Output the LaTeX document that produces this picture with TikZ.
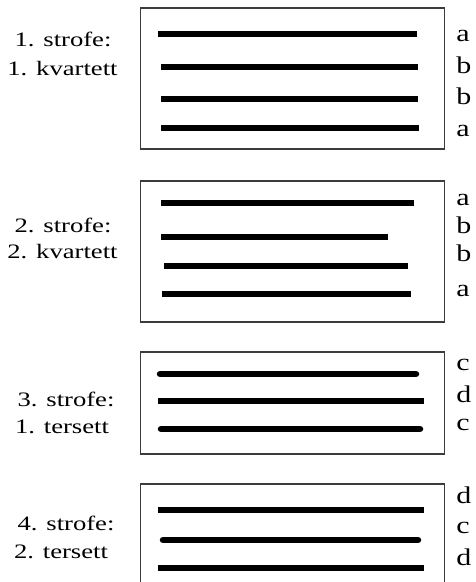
\documentclass[tikz,border=0pt]{standalone}
\usepackage{fontspec}
\setmainfont{Liberation Serif}
\usetikzlibrary{positioning}
\tikzstyle{poem} = [x = 1pt, y = -1pt, every node/.style={transform shape, inner sep = 0pt}]
\definecolor{frameColor}{RGB}{60,60,60}
\tikzstyle{strofeStyle} = [color=frameColor, line width = 1.2pt]
\tikzstyle{verseStyle} = [color=black, line width = 6.5pt]
\tikzstyle{labelText} = [font=\fontsize{20.5}{24}\selectfont, xscale = 1.3, anchor = base]
\tikzstyle{rhymeText} = [font=\fontsize{24}{28}\selectfont, xscale = 1.25, anchor = base west]
\newcommand{\strofeBox}[2]{\draw [strofeStyle] (140.5, #1) rectangle (444.5, #2);}
\newcommand{\verseLine}[3]{\draw [verseStyle] (#1, #3) -- (#2, #3);}
\newcommand{\roundVerseLine}[3]{\draw [verseStyle, line cap = round] (#1 + 3, #3) -- (#2 - 3, #3);}
\newcommand{\rhyme}[3]{\node [rhymeText] (#1) at (456, #2) {#3};}
\newcommand{\strofeLabel}[4]{\node [labelText] (#1) at (#2, #3) {#4};}

\begin{document}
\begin{tikzpicture}[poem]
          \useasboundingbox (0, 0) rectangle (476, 582);
          \clip (0, 0) rectangle (476, 582);

          \strofeLabel{strofeOne}{63}{46.5}{1. strofe:}
          \strofeLabel{kvartettOne}{62.5}{75}{1. kvartett}
          \strofeBox{8}{149}
          \verseLine{158}{417}{34}
          \verseLine{161}{418}{67}
          \verseLine{161}{418}{99}
          \verseLine{161}{419}{128}
          \rhyme{rhymeOneA}{41}{a}
          \rhyme{rhymeOneB}{73}{b}
          \rhyme{rhymeOneC}{104}{b}
          \rhyme{rhymeOneD}{136}{a}

          \strofeLabel{strofeTwo}{63}{232}{2. strofe:}
          \strofeLabel{kvartettTwo}{62.5}{258}{2. kvartett}
          \strofeBox{181}{322}
          \verseLine{161}{414}{203}
          \verseLine{161}{388}{237}
          \verseLine{164}{408}{266}
          \verseLine{162}{411}{294}
          \rhyme{rhymeTwoA}{205}{a}
          \rhyme{rhymeTwoB}{233}{b}
          \rhyme{rhymeTwoC}{261}{b}
          \rhyme{rhymeTwoD}{296}{a}

          \strofeLabel{strofeThree}{66}{406.5}{3. strofe:}
          \strofeLabel{tersettOne}{62}{433}{1. tersett}
          \strofeBox{352}{454}
          \roundVerseLine{157}{419}{374}
          \verseLine{158}{424}{401}
          \roundVerseLine{158}{423}{429}
          \rhyme{rhymeThreeA}{370}{c}
          \rhyme{rhymeThreeB}{402}{d}
          \rhyme{rhymeThreeC}{430}{c}

          \strofeLabel{strofeFour}{66}{530}{4. strofe:}
          \strofeLabel{tersettTwo}{61}{558}{2. tersett}
          \strofeBox{484}{590}
          \verseLine{158}{424}{510}
          \roundVerseLine{160}{421}{540}
          \verseLine{158}{424}{568}
          \rhyme{rhymeFourA}{503}{d}
          \rhyme{rhymeFourB}{533}{c}
          \rhyme{rhymeFourC}{565}{d}
        \end{tikzpicture}
\end{document}
